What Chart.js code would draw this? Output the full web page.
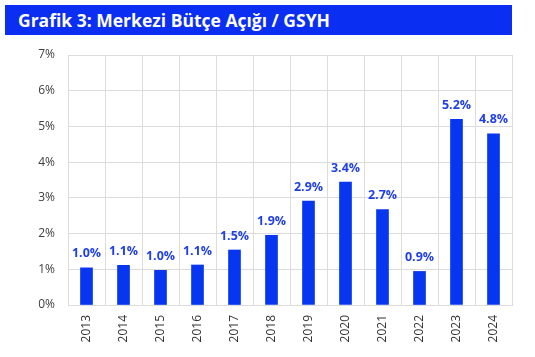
<!DOCTYPE html>
<html><head><meta charset="utf-8">
<script src="https://cdn.jsdelivr.net/npm/chart.js@4/dist/chart.umd.min.js"></script>
<style>
html,body{margin:0;padding:0;background:#fff;width:535px;height:357px;overflow:hidden;}
#title{position:absolute;left:5px;top:5px;width:507px;height:30px;background:#0a2ef2;color:#fff;font-family:"Open Sans",sans-serif;font-weight:700;font-size:17.5px;line-height:30px;padding-left:13px;box-sizing:border-box;}
#wrap{position:absolute;left:0;top:0;width:535px;height:357px;}
</style></head><body>
<div id="title">Grafik 3: Merkezi Bütçe Açığı / GSYH</div>
<div id="wrap"><canvas id="c" width="535" height="357"></canvas></div>
<script>
const categories = ["2013","2014","2015","2016","2017","2018","2019","2020","2021","2022","2023","2024"];
const deficitValues = [1.04,1.11,0.97,1.12,1.54,1.95,2.91,3.44,2.67,0.94,5.2,4.79];
const yTicks = [0,1,2,3,4,5,6,7];

const labelPlugin = {
  id:'barLabels',
  afterDatasetsDraw(chart){
    const ctx = chart.ctx;
    const meta = chart.getDatasetMeta(0);
    ctx.save();
    ctx.font = 'bold 12.5px "Open Sans", sans-serif';
    ctx.fillStyle = '#1f3fe8';
    ctx.textAlign = 'center';
    ctx.textBaseline = 'middle';
    meta.data.forEach((bar,i)=>{
      ctx.fillText(deficitValues[i].toFixed(1)+'%', bar.x, bar.y-14);
    });
    ctx.restore();
  }
};

new Chart(document.getElementById('c'),{
  type:'bar',
  data:{labels:categories,datasets:[{data:deficitValues,backgroundColor:'#0636f0',barThickness:12}]},
  options:{
    responsive:false,animation:false,
    layout:{padding:{top:55,right:23,left:0,bottom:0}},
    plugins:{legend:{display:false},tooltip:{enabled:false}},
    scales:{
      x:{
        grid:{color:'#dcdcdc',drawTicks:false,offset:true},
        border:{color:'#dcdcdc'},
        ticks:{minRotation:90,maxRotation:90,padding:10,color:'#333',font:{family:'"Open Sans", sans-serif',size:12}},
        afterFit(s){s.height=52;}
      },
      y:{
        min:0,max:7,
        afterBuildTicks(s){s.ticks=yTicks.map(v=>({value:v}));},
        grid:{color:'#dcdcdc',drawTicks:false},
        border:{color:'#dcdcdc'},
        ticks:{padding:13,color:'#404040',font:{family:'"Open Sans", sans-serif',size:12},callback:v=>v+'%'},
        afterFit(s){s.width=68;}
      }
    }
  },
  plugins:[labelPlugin]
});
</script>
</body></html>
